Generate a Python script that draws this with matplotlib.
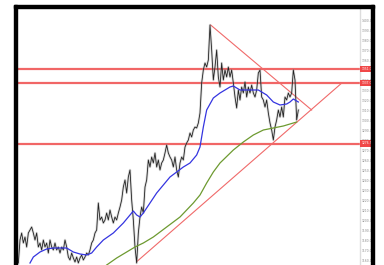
import numpy as np
import matplotlib.pyplot as plt
from matplotlib.patches import Rectangle

# daily closes (one value per step)
price = [1157, 1180, 1187, 1177, 1183, 1173, 1187, 1190, 1193, 1187,
         1180, 1187, 1173, 1177, 1170, 1180, 1173, 1177, 1167, 1180,
         1173, 1170, 1177, 1170, 1173, 1167, 1173, 1170, 1180, 1173,
         1163, 1160, 1167, 1162, 1158, 1163, 1157, 1162, 1165, 1160,
         1163, 1167, 1165, 1170, 1177, 1180, 1187, 1190, 1217, 1200,
         1203, 1197, 1200, 1207, 1200, 1210, 1203, 1197, 1203, 1200,
         1207, 1213, 1220, 1233, 1240, 1227, 1243, 1250, 1220, 1200,
         1173, 1157, 1187, 1203, 1213, 1207, 1233, 1240, 1260, 1253,
         1263, 1257, 1267, 1253, 1260, 1250, 1257, 1260, 1267, 1275,
         1267, 1263, 1260, 1253, 1263, 1250, 1243, 1257, 1263, 1260,
         1273, 1277, 1280, 1287, 1283, 1290, 1293, 1292, 1297, 1307,
         1337, 1350, 1357, 1353, 1360, 1395, 1370, 1340, 1353, 1370,
         1343, 1333, 1357, 1340, 1350, 1343, 1353, 1343, 1350, 1337,
         1323, 1312, 1330, 1320, 1333, 1327, 1338, 1323, 1333, 1327,
         1335, 1327, 1323, 1330, 1347, 1350, 1323, 1320, 1313, 1320,
         1307, 1297, 1290, 1280, 1293, 1300, 1310, 1303, 1313, 1303,
         1323, 1320, 1327, 1323, 1327, 1350, 1340, 1300, 1310]
day = np.arange(len(price))

# 50 period average (blue)
ma50_day = [7, 9, 13, 17, 21, 29, 33, 37, 41, 44, 47, 51, 57, 63, 66, 69,
            71, 73, 75, 79, 83, 87, 91, 95, 99, 103, 107, 109, 111, 113,
            117, 121, 127, 129, 133, 137, 141, 144, 147, 149, 153, 157,
            161, 163, 165, 168]
ma50 = [1157, 1163, 1168, 1171, 1172, 1172, 1168, 1166, 1165, 1167, 1173,
        1180, 1187, 1197, 1203, 1209, 1205, 1203, 1207, 1217, 1227, 1235,
        1243, 1248, 1253, 1257, 1265, 1273, 1293, 1310, 1322, 1327, 1333,
        1334, 1330, 1330, 1330, 1330, 1327, 1325, 1318, 1315, 1316, 1318,
        1321, 1318]

# 200 period average (green)
ma200_day = [53, 59, 65, 70, 75, 81, 89, 97, 105, 109, 113, 117, 121, 129,
             135, 141, 147, 153, 159, 163, 167]
ma200 = [1155, 1162, 1168, 1173, 1177, 1183, 1193, 1203, 1217, 1225, 1237,
         1248, 1257, 1270, 1278, 1285, 1290, 1292, 1294, 1296, 1298]

# support / resistance levels and trend lines
levels = [1351.0, 1337.0, 1276.5]
down_day = [115.4, 176.0]
down_val = [1395, 1310]
up_day = [71.0, 193.4]
up_val = [1158.3, 1336]
y_ticks = list(range(1160, 1410, 10))

fig = plt.figure(figsize=(3.84, 2.65), dpi=100)
ax = fig.add_axes([18 / 384, 0, 342 / 384, 256 / 265])
ax.set_xlim(-0.2, 205)
ax.set_ylim(1155, 1411)

for lev in levels:
    ax.axhline(lev, color='#f05555', lw=1.6, alpha=0.9, zorder=1)
ax.plot(down_day, down_val, color='#f06a6a', lw=0.8, zorder=1)
ax.plot(up_day, up_val, color='#f06a6a', lw=0.8, zorder=1)

ax.plot(day, price, color='#999999', lw=1.8, alpha=0.35, zorder=2)
ax.plot(day, price, color='#222222', lw=0.6, zorder=3)
ax.plot(ma50_day, ma50, color='#3535e0', lw=0.9, zorder=4)
ax.plot(ma200_day, ma200, color='#6d9a30', lw=0.9, zorder=4)

for s in ['left', 'top', 'bottom']:
    ax.spines[s].set_visible(False)
ax.spines['right'].set_color('#dddddd')
ax.spines['right'].set_linewidth(1.0)
ax.yaxis.tick_right()
ax.set_yticks(y_ticks)
ax.set_yticklabels([f'{v:.1f}' for v in y_ticks])
ax.tick_params(axis='y', length=0, labelsize=2.2, labelcolor='#888888', pad=1.5)
ax.set_xticks([])

for lev in levels:
    ax.text(1.004, lev, f'{lev:.1f}', transform=ax.get_yaxis_transform(),
            fontsize=2.2, color='white', va='center', ha='left', clip_on=False,
            bbox=dict(boxstyle='square,pad=0.4', fc='#f04848', ec='none'))

# black frame around the screenshot
W, H = 384, 265
frame = [(13.5, 0, 3.5, 260), (13.5, 257, 360.5, 3.2), (370.5, 0, 3.5, 260)]
for x0, y0, w, h in frame:
    fig.patches.append(Rectangle((x0 / W, y0 / H), w / W, h / H,
                                 transform=fig.transFigure, color='black'))

fig.savefig('out.png', dpi=100)
